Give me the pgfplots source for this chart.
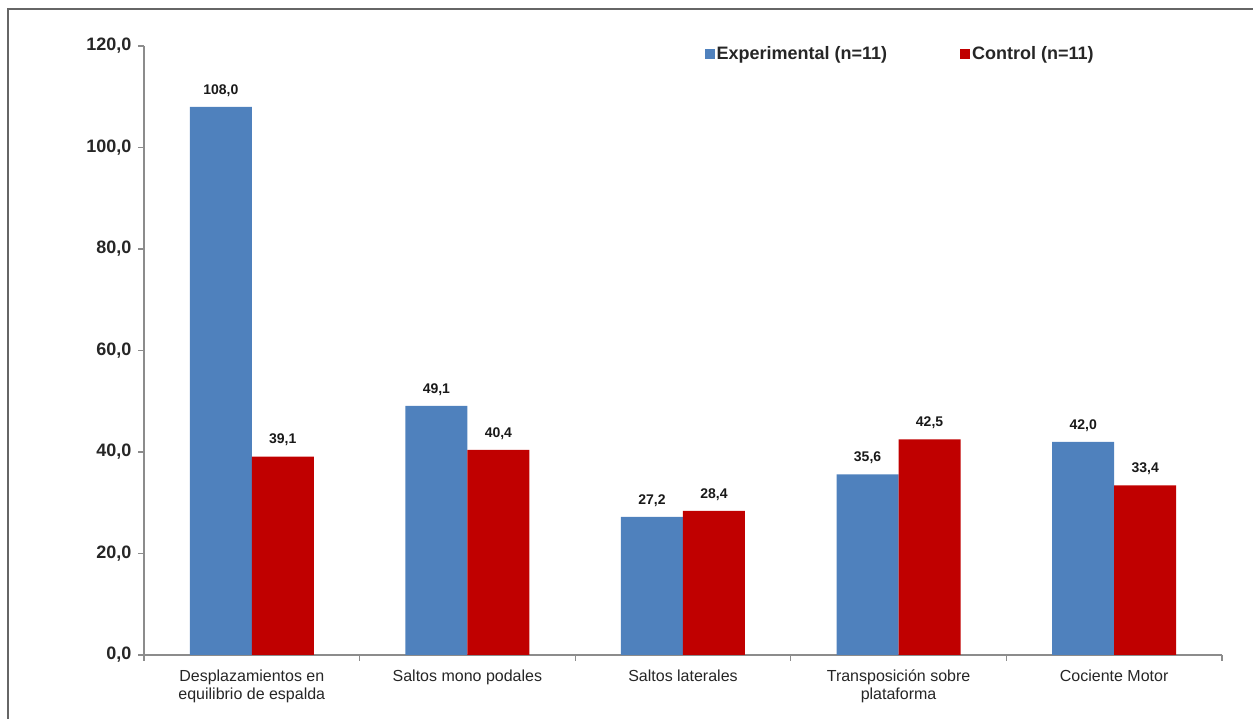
\documentclass[border=0pt]{standalone}
\usepackage{pgfplots}
\pgfplotsset{compat=1.18}
\usepackage{fontspec}
\setmainfont{Liberation Sans}
\definecolor{cblue}{HTML}{4F81BD}
\definecolor{cred}{HTML}{C00000}
\definecolor{axgray}{HTML}{8C8C8C}
\begin{document}
\begin{tikzpicture}[x=1pt,y=1pt]
\path[use as bounding box] (0,0) rectangle (1253,719);
\draw[color=black!60, line width=1.5pt] (8,0) -- (8,710) -- (1253,710);
\begin{axis}[
  at={(144pt,64pt)}, anchor=south west,
  width=1078pt, height=609pt, scale only axis,
  ymin=0, ymax=120, xmin=-0.5, xmax=4.5,
  clip=false,
  ybar=0pt, bar width=62pt,
  axis lines*=left,
  axis line style={axgray, line width=1.3pt},
  tick style={axgray, line width=1.3pt},
  major tick length=6pt,
  tick align=outside,
  ytick={0,20,...,120},
  xtick={-0.5,0.5,...,4.5},
  x tick label as interval,
  xticklabels={{Desplazamientos en\\equilibrio de espalda}, Saltos mono podales, Saltos laterales, {Transposición sobre\\plataforma}, Cociente Motor},
  xticklabel style={align=center, font=\fontsize{16}{18}\selectfont, text=black!85, yshift=-5pt},
  yticklabel style={font=\fontsize{18}{20}\selectfont\bfseries, text=black!85, xshift=-3pt, /pgf/number format/.cd, fixed, fixed zerofill, precision=1, use comma, assume math mode=true},
  nodes near coords,
  every node near coord/.append style={font=\fontsize{14}{16}\selectfont\bfseries, text=black!90, yshift=7pt, /pgf/number format/.cd, fixed, fixed zerofill, precision=1, use comma, assume math mode=true},
  legend style={at={(rel axis cs:0.517,1.006)}, anchor=north west, draw=none, fill=none, legend columns=2, font=\fontsize{18}{20}\selectfont\bfseries, text=black!85, /tikz/every even column/.append style={column sep=71pt}},
  legend image code/.code={\fill[#1] (0pt,-5pt) rectangle (10pt,5pt);},
]
\addplot[fill=cblue, draw=none] coordinates {(0,108.0) (1,49.1) (2,27.2) (3,35.6) (4,42.0)};
\addlegendentry{Experimental (n=11)}
\addplot[fill=cred, draw=none] coordinates {(0,39.1) (1,40.4) (2,28.4) (3,42.5) (4,33.4)};
\addlegendentry{Control (n=11)}
\end{axis}
\end{tikzpicture}
\end{document}
